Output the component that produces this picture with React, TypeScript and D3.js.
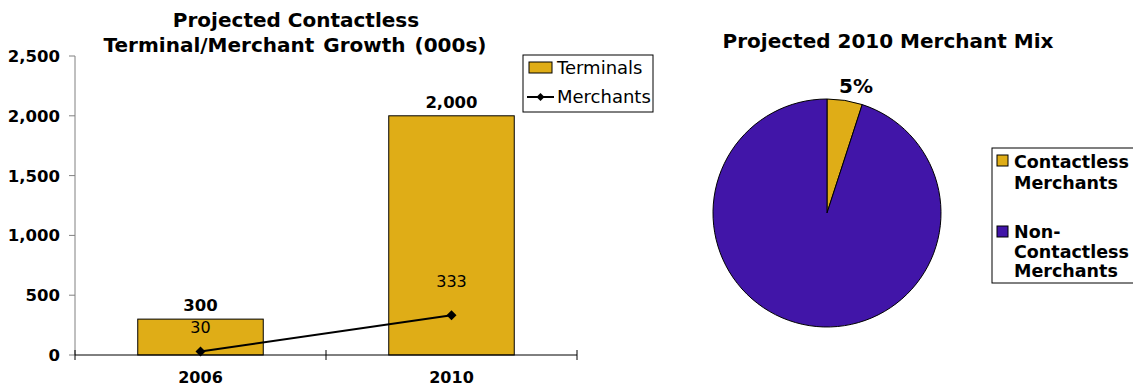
import React from "react";
import * as d3 from "d3";

const years = ["2006", "2010"];
const terminals = [300, 2000];
const merchants = [30, 333];
const yTicks = [0, 500, 1000, 1500, 2000, 2500];
const mixLabels = ["Contactless Merchants", "Non-Contactless Merchants"];
const mixValues = [5, 95];

const GOLD = "#DFAD17";
const PURPLE = "#4115A8";
const FONT = "'DejaVu Sans', Verdana, sans-serif";

export default function App() {
  const x = d3.scaleBand<string>().domain(years).range([75, 577]).paddingInner(0).paddingOuter(0);
  const y = d3.scaleLinear().domain([0, 2500]).range([355, 56]);
  const fmt = d3.format(",");
  const bw = x.bandwidth() * 0.5;
  const cx = (c: string) => (x(c) as number) + x.bandwidth() / 2;
  const line = d3.line<number>().x((_, i) => cx(years[i])).y((d) => y(d));

  const pieGen = d3.pie<number>().sort(null).value((d) => d);
  const arcs = pieGen(mixValues);
  const arc = d3.arc<d3.PieArcDatum<number>>().innerRadius(0).outerRadius(114);
  const pcx = 827, pcy = 213;
  const pieColors = [GOLD, PURPLE];
  const total = d3.sum(mixValues);

  const diamond = (px: number, py: number, s = 5) =>
    `M${px},${py - s}L${px + s},${py}L${px},${py + s}L${px - s},${py}Z`;

  return (
    <svg width={1133} height={387} style={{ position: "absolute", left: 0, top: 0, background: "#fff" }} fontFamily={FONT}>
      {/* Bar chart title */}
      <text x={296} y={27} textAnchor="middle" fontSize={20} fontWeight="bold">Projected Contactless</text>
      <text x={295} y={52} textAnchor="middle" fontSize={20} fontWeight="bold" wordSpacing={2}>Terminal/Merchant Growth (000s)</text>

      {/* bars */}
      {years.map((c, i) => (
        <rect key={c} x={cx(c) - bw / 2} y={y(terminals[i])} width={bw} height={y(0) - y(terminals[i])}
          fill={GOLD} stroke="#000" strokeWidth={1} />
      ))}

      {/* y axis */}
      <line x1={75} x2={75} y1={y(2500)} y2={y(0)} stroke="#808080" strokeWidth={1} />
      {yTicks.map((t) => (
        <g key={t}>
          <line x1={69} x2={75} y1={y(t)} y2={y(t)} stroke="#808080" />
          <text x={60} y={y(t) + 6} textAnchor="end" fontSize={16.5} fontWeight="bold">{fmt(t)}</text>
        </g>
      ))}
      {/* x axis */}
      <line x1={75} x2={577} y1={y(0)} y2={y(0)} stroke="#000" strokeWidth={1} />
      {[75, 326, 577].map((px) => (
        <line key={px} x1={px} x2={px} y1={y(0) - 5} y2={y(0) + 5} stroke="#000" />
      ))}
      {years.map((c) => (
        <text key={c} x={cx(c)} y={383} textAnchor="middle" fontSize={16} fontWeight="bold">{c}</text>
      ))}

      {/* bar labels */}
      {years.map((c, i) => (
        <text key={c} x={cx(c)} y={y(terminals[i]) - 8} textAnchor="middle" fontSize={16.5} fontWeight="bold">{fmt(terminals[i])}</text>
      ))}

      {/* merchants line */}
      <path d={line(merchants) || ""} fill="none" stroke="#000" strokeWidth={2} />
      {merchants.map((v, i) => (
        <path key={i} d={diamond(cx(years[i]), y(v))} fill="#000" />
      ))}
      {merchants.map((v, i) => (
        <text key={i} x={cx(years[i])} y={y(v) - (i === 0 ? 18 : 28)} textAnchor="middle" fontSize={16}>{v}</text>
      ))}

      {/* bar legend */}
      <rect x={523} y={55} width={130} height={57} fill="#fff" stroke="#000" />
      <rect x={529} y={62} width={23} height={11} fill={GOLD} stroke="#000" />
      <text x={557} y={74} fontSize={18}>Terminals</text>
      <line x1={527} x2={554} y1={97} y2={97} stroke="#000" strokeWidth={2} />
      <path d={diamond(540.5, 97, 4)} fill="#000" />
      <text x={557} y={103} fontSize={18}>Merchants</text>

      {/* pie title */}
      <text x={888} y={48} textAnchor="middle" fontSize={20} fontWeight="bold">Projected 2010 Merchant Mix</text>

      {/* pie */}
      <g transform={`translate(${pcx},${pcy})`}>
        {arcs.map((a, i) => (
          <path key={i} d={arc(a) || ""} fill={pieColors[i]} stroke="#000" strokeWidth={1} />
        ))}
      </g>
      <text x={856} y={93} textAnchor="middle" fontSize={20} fontWeight="bold">
        {Math.round((mixValues[0] / total) * 100)}%
      </text>

      {/* pie legend */}
      <rect x={992} y={148} width={150} height={135} fill="#fff" stroke="#000" />
      <rect x={997} y={155} width={11} height={11} fill={pieColors[0]} stroke="#000" />
      <text fontSize={17.5} fontWeight="bold">
        <tspan x={1014} y={168}>Contactless</tspan>
        <tspan x={1014} y={189}>Merchants</tspan>
      </text>
      <rect x={997} y={226} width={11} height={11} fill={pieColors[1]} stroke="#000" />
      <text fontSize={17.5} fontWeight="bold">
        <tspan x={1014} y={238}>Non-</tspan>
        <tspan x={1014} y={257.5}>Contactless</tspan>
        <tspan x={1014} y={277}>Merchants</tspan>
      </text>
      <title>{mixLabels.join(", ")}</title>
    </svg>
  );
}
